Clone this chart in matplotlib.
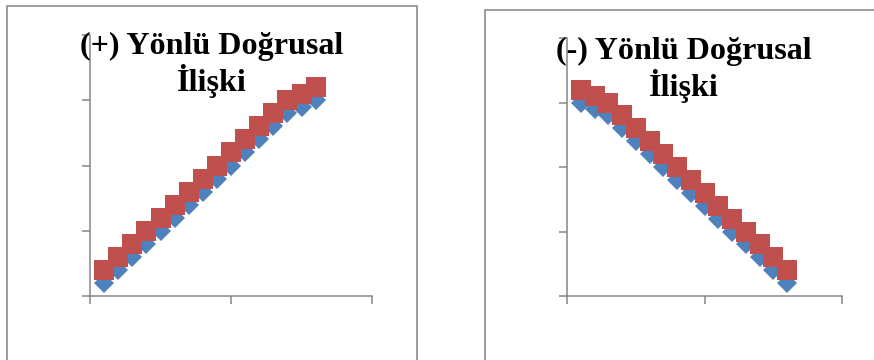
import matplotlib
matplotlib.use("Agg")
import matplotlib.pyplot as plt
from matplotlib.patches import Rectangle

# ---- data ----
x_vals = [1, 2, 3, 4, 5, 6, 7, 8, 9, 10, 11, 12, 13, 14, 15, 16]
pos_blue = [1, 2, 3, 4, 5, 6, 7, 8, 9, 10, 11, 12, 13, 14, 14.5, 15]
pos_red = [2, 3, 4, 5, 6, 7, 8, 9, 10, 11, 12, 13, 14, 15, 15.5, 16]
neg_blue = [15, 14.5, 14, 13, 12, 11, 10, 9, 8, 7, 6, 5, 4, 3, 2, 1]
neg_red = [16, 15.5, 15, 14, 13, 12, 11, 10, 9, 8, 7, 6, 5, 4, 3, 2]
x_ticks = [0, 10, 20]
y_ticks = [0, 5, 10, 15, 20]
titles = ["(+) Yönlü Doğrusal\nİlişki", "(-) Yönlü Doğrusal\nİlişki"]

W, H = 874, 360
fig = plt.figure(figsize=(W / 100, H / 100), dpi=100)

BLUE = "#4F81BD"
RED = "#C0504D"
AXC = "#868686"
BOXC = "#8C8C8C"


def fx(px):
    return px / W


def fy(py):
    return 1 - py / H


# chart area borders
fig.patches.append(Rectangle((fx(7), fy(380)), fx(417) - fx(7), fy(6) - fy(380),
                             transform=fig.transFigure, fill=False,
                             edgecolor=BOXC, linewidth=1.2, clip_on=False))
fig.patches.append(Rectangle((fx(485), fy(380)), fx(900) - fx(485), fy(10) - fy(380),
                             transform=fig.transFigure, fill=False,
                             edgecolor=BOXC, linewidth=1.2, clip_on=False))

panels = [
    (90, 372, 35, 296, pos_blue, pos_red, titles[0], 212, 32),
    (567, 842, 38, 296, neg_blue, neg_red, titles[1], 684, 37),
]

for (x0, x1, y0, y1, blue, red, title, tx, ty) in panels:
    ax = fig.add_axes([fx(x0), fy(y1), fx(x1) - fx(x0), fy(y0) - fy(y1)])
    ax.plot(x_vals, blue, linestyle="none", marker="D", markersize=10.5,
            color=BLUE, markeredgewidth=0, clip_on=False, zorder=3)
    ax.plot(x_vals, red, linestyle="none", marker="s", markersize=14.4,
            color=RED, markeredgewidth=0, clip_on=False, zorder=4)
    ax.set_xlim(0, 20)
    ax.set_ylim(0, 20)
    ax.set_xticks(x_ticks)
    ax.set_yticks(y_ticks)
    ax.set_xticklabels([])
    ax.set_yticklabels([])
    ax.tick_params(direction="out", length=6, width=1.1, color=AXC)
    for s in ["top", "right"]:
        ax.spines[s].set_visible(False)
    for s in ["left", "bottom"]:
        ax.spines[s].set_color(AXC)
        ax.spines[s].set_linewidth(1.1)
    ax.patch.set_alpha(0)
    fig.text(fx(tx), fy(ty), title, ha="center", va="top",
             multialignment="center", fontsize=23.1, fontweight="bold",
             family="Liberation Serif", linespacing=1.12, zorder=10)

fig.savefig("out.png", dpi=100)
